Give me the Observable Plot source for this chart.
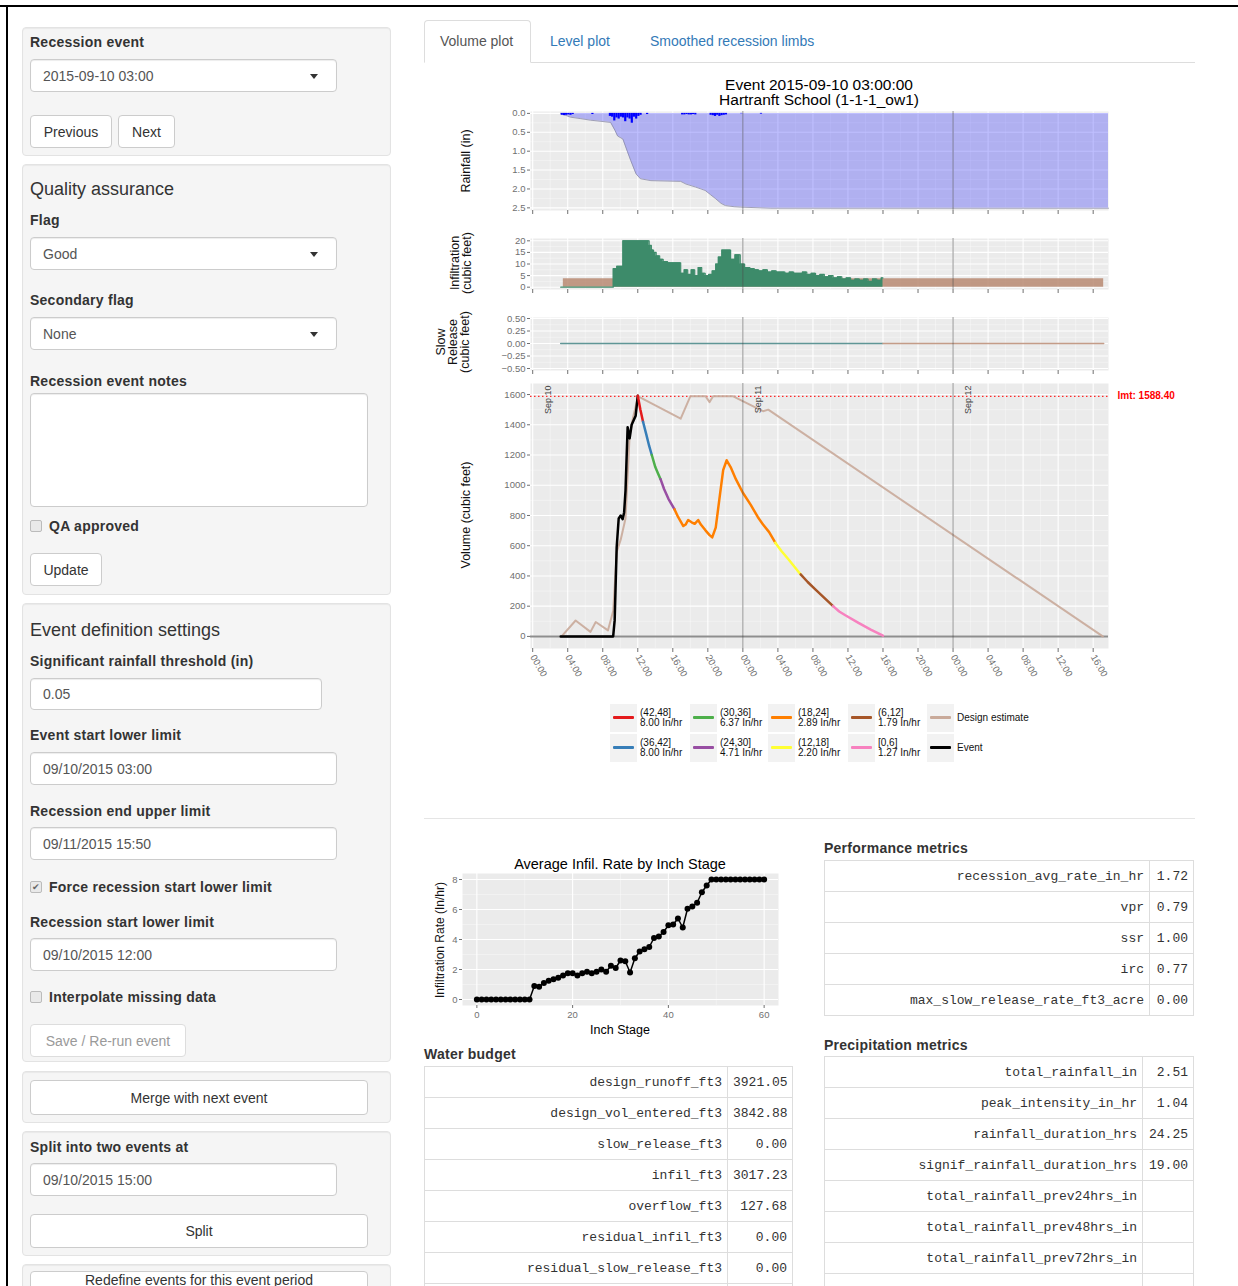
<!DOCTYPE html>
<html><head><meta charset="utf-8">
<script src="https://cdn.jsdelivr.net/npm/d3@7"></script>
<script src="https://cdn.jsdelivr.net/npm/@observablehq/plot@0.6"></script>
<style>
*{box-sizing:border-box}
html,body{margin:0;padding:0}
body{position:relative;width:1238px;height:1286px;overflow:hidden;background:#fff;font-family:"Liberation Sans",Arial,Helvetica,sans-serif;color:#333}
.a{position:absolute;white-space:nowrap}
.well{position:absolute;left:22px;width:369px;background:#f5f5f5;border:1px solid #e3e3e3;border-radius:4px;box-shadow:inset 0 1px 1px rgba(0,0,0,.05)}
.lbl{position:absolute;left:30px;font-weight:bold;font-size:14px;line-height:16px;margin-top:-8px;letter-spacing:.25px;white-space:nowrap;color:#333}
.h4{position:absolute;left:30px;font-size:18px;line-height:20px;margin-top:-10px;white-space:nowrap;color:#333}
.inp{position:absolute;left:30px;height:33px;background:#fff;border:1px solid #ccc;border-radius:4px;font-size:14px;color:#555;padding-left:12px;display:flex;align-items:center;box-shadow:inset 0 1px 1px rgba(0,0,0,.075)}
.caret{position:absolute;right:18px;top:14px;width:0;height:0;border-left:4px solid transparent;border-right:4px solid transparent;border-top:5px solid #333}
.btn{position:absolute;left:30px;height:33px;background:#fff;border:1px solid #ccc;border-radius:4px;font-size:14px;color:#333;display:flex;align-items:center;justify-content:center;white-space:nowrap}
.cb{position:absolute;left:30px;width:12px;height:12px;border:1px solid #bbb;border-radius:2px;background:#e9e9e9;font-size:9px;line-height:10px;text-align:center;color:#666}
.tbl{position:absolute;border-collapse:collapse;table-layout:fixed;font-family:"Liberation Mono","DejaVu Sans Mono",monospace;font-size:13px;color:#333}
.tbl td{border:1px solid #ddd;height:31px;padding:0 5px 0 5px;text-align:right;white-space:nowrap;overflow:hidden}
.sec{position:absolute;font-weight:bold;font-size:14px;line-height:16px;margin-top:-8px;letter-spacing:.25px;white-space:nowrap;color:#333}
.yt{position:absolute;transform:translate(-50%,-50%) rotate(-90deg);white-space:pre;text-align:center;font-size:12.5px;line-height:12px;color:#111}
.ttl{position:absolute;text-align:center;font-size:15px;line-height:15px;color:#000;white-space:pre}
.lg{position:absolute;font-size:10px;line-height:10px;color:#111;white-space:pre}
.key{position:absolute;width:27px;height:28px;background:#f2f2f2}
.key i{position:absolute;left:3px;right:3px;top:12px;height:3px;border-radius:1px}
</style></head><body>

<!-- outer frame -->
<div class="a" style="left:0;top:5px;width:1238px;height:2px;background:#000"></div>
<div class="a" style="left:6px;top:5px;width:2px;height:1281px;background:#000"></div>

<!-- sidebar wells -->
<div class="well" style="top:27px;height:129px"></div>
<div class="well" style="top:164px;height:431px"></div>
<div class="well" style="top:603px;height:459px"></div>
<div class="well" style="top:1071px;height:52px"></div>
<div class="well" style="top:1131px;height:125px"></div>
<div class="well" style="top:1264px;height:60px"></div>

<div class="lbl" style="top:42px">Recession event</div>
<div class="inp" style="top:59px;width:307px">2015-09-10 03:00<span class="caret"></span></div>
<div class="btn" style="top:115px;width:82px">Previous</div>
<div class="btn" style="top:115px;left:118px;width:57px">Next</div>

<div class="h4" style="top:189px">Quality assurance</div>
<div class="lbl" style="top:220px">Flag</div>
<div class="inp" style="top:237px;width:307px">Good<span class="caret"></span></div>
<div class="lbl" style="top:300px">Secondary flag</div>
<div class="inp" style="top:317px;width:307px">None<span class="caret"></span></div>
<div class="lbl" style="top:381px">Recession event notes</div>
<div class="inp" style="top:393px;width:338px;height:114px"></div>
<div class="cb" style="top:520px"></div>
<div class="lbl" style="top:526px;left:49px">QA approved</div>
<div class="btn" style="top:553px;width:72px">Update</div>

<div class="h4" style="top:630px">Event definition settings</div>
<div class="lbl" style="top:661px">Significant rainfall threshold (in)</div>
<div class="inp" style="top:678px;width:292px;height:32px">0.05</div>
<div class="lbl" style="top:735px">Event start lower limit</div>
<div class="inp" style="top:752px;width:307px">09/10/2015 03:00</div>
<div class="lbl" style="top:811px">Recession end upper limit</div>
<div class="inp" style="top:827px;width:307px">09/11/2015 15:50</div>
<div class="cb" style="top:881px">✔</div>
<div class="lbl" style="top:887px;left:49px">Force recession start lower limit</div>
<div class="lbl" style="top:922px">Recession start lower limit</div>
<div class="inp" style="top:938px;width:307px">09/10/2015 12:00</div>
<div class="cb" style="top:991px"></div>
<div class="lbl" style="top:997px;left:49px">Interpolate missing data</div>
<div class="btn" style="top:1024px;width:156px;color:#9a9a9a;border-color:#ddd">Save / Re-run event</div>

<div class="btn" style="top:1080px;width:338px;height:35px">Merge with next event</div>
<div class="lbl" style="top:1147px">Split into two events at</div>
<div class="inp" style="top:1163px;width:307px">09/10/2015 15:00</div>
<div class="btn" style="top:1214px;width:338px;height:34px">Split</div>
<div class="btn" style="top:1271px;width:338px;height:34px;align-items:flex-start;padding-top:1px;line-height:14px">Redefine events for this event period</div>

<!-- tabs -->
<div class="a" style="left:424px;top:62px;width:771px;height:1px;background:#ddd"></div>
<div class="a" style="left:424px;top:20px;width:107px;height:43px;border:1px solid #ddd;border-bottom-color:#fff;border-radius:4px 4px 0 0;background:#fff"></div>
<div class="a" style="left:440px;top:33px;font-size:14px;line-height:16px;color:#555">Volume plot</div>
<div class="a" style="left:550px;top:33px;font-size:14px;line-height:16px;color:#337ab7">Level plot</div>
<div class="a" style="left:650px;top:33px;font-size:14px;line-height:16px;color:#337ab7">Smoothed recession limbs</div>

<!-- main figure text -->
<div class="ttl" style="left:619px;top:77px;width:400px;font-size:15.5px">Event 2015-09-10 03:00:00
Hartranft School (1-1-1_ow1)</div>
<div class="yt" style="left:466px;top:161px">Rainfall (in)</div>
<div class="yt" style="left:461px;top:263px">Infiltration
(cubic feet)</div>
<div class="yt" style="left:453px;top:342px">Slow
Release
(cubic feet)</div>
<div class="yt" style="left:466px;top:515px">Volume (cubic feet)</div>

<div id="legend"></div>

<div class="a" style="left:424px;top:818px;width:771px;height:1px;background:#e5e5e5"></div>

<!-- second chart text -->
<div class="ttl" style="left:420px;top:857px;width:400px;font-size:14.5px">Average Infil. Rate by Inch Stage</div>
<div class="yt" style="left:440px;top:940px;font-size:12px">Infiltration Rate (In/hr)</div>
<div class="ttl" style="left:470px;top:1023px;width:300px;font-size:12.5px">Inch Stage</div>

<div class="sec" style="left:424px;top:1054px">Water budget</div>
<div class="sec" style="left:824px;top:848px">Performance metrics</div>
<div class="sec" style="left:824px;top:1045px">Precipitation metrics</div>
<div id="tables"></div>

<div id="plots"></div>

<script>
// ---------------- data ----------------
// times are hours after 2015-09-10 00:00
const rainCumHours = [3.2, 4.3, 5.5, 6.6, 7.8, 8.9, 9.4, 9.7, 10.3, 10.8, 11.2, 11.8, 12.3, 13.5, 16.9, 17.5, 18.6, 19.7, 20.3, 20.9, 21.5, 22.0, 23.0, 23.7, 27.2, 65.75];
const rainCumIn    = [0, 0.10, 0.14, 0.18, 0.21, 0.24, 0.45, 0.60, 0.68, 1.00, 1.25, 1.60, 1.73, 1.78, 1.80, 1.87, 1.95, 2.04, 2.15, 2.26, 2.38, 2.44, 2.47, 2.48, 2.51, 2.51];

const rainBarHours = [3.25, 3.5, 3.75, 4.0, 4.25, 4.5, 6.75, 8.75, 9.0, 9.25, 9.5, 9.75, 10.0, 10.25, 10.5, 10.75, 11.0, 11.25, 11.5, 11.75, 12.0, 12.25, 13.0, 17.0, 17.25, 17.5, 17.75, 18.0, 18.25, 18.5, 20.25, 20.5, 20.75, 21.0, 21.25, 21.5, 21.75, 22.0, 23.75, 26.0];
const rainBarIn    = [0.05, 0.06, 0.05, 0.04, 0.05, 0.03, 0.03, 0.08, 0.10, 0.20, 0.12, 0.15, 0.10, 0.12, 0.22, 0.12, 0.15, 0.26, 0.10, 0.15, 0.08, 0.05, 0.03, 0.04, 0.04, 0.03, 0.04, 0.04, 0.03, 0.04, 0.05, 0.06, 0.08, 0.05, 0.08, 0.06, 0.05, 0.04, 0.01, 0.02];

const infilHours = [3.2, 9.2, 9.6, 10.3, 13.3, 13.55, 13.8, 14.1, 14.5, 14.9, 15.4, 16.9, 17.3, 17.7, 18.1, 18.5, 18.9, 19.3, 19.7, 20.1, 20.5, 20.9, 21.2, 21.6, 22.6, 23.1, 23.7, 24.2, 24.8, 25.3, 25.8, 26.3, 26.8, 27.3, 27.8, 28.3, 28.8, 29.3, 29.8, 30.3, 30.8, 31.3, 31.8, 32.3, 32.8, 33.3, 33.8, 34.3, 34.8, 35.3, 35.8, 36.3, 36.8, 37.3, 37.8, 38.3, 38.8, 39.3, 39.8, 40.0];
const infilFt3   = [0, 8, 9, 20, 18, 16, 15, 13.5, 12, 11, 10.5, 6, 7.5, 5.5, 7.5, 5, 8.5, 6, 5, 5.5, 7, 10, 13, 16, 12, 14, 10, 8.5, 8, 7.5, 7, 7.5, 6.5, 7, 6.5, 6.5, 6, 6.5, 6, 6, 6.5, 5.5, 6, 5, 5.5, 4.5, 5, 4, 4.5, 3.5, 4, 3, 3.5, 3, 3.5, 2.5, 3.5, 3, 4, 4];
const designInfilHours = [3.5, 65.2];
const designInfilFt3   = [3.6, 3.6];

const slowObsHours = [3.2, 40.0];
const slowObsFt3   = [0, 0];
const slowDesignHours = [40.0, 65.2];
const slowDesignFt3   = [0, 0];

const eventHours = [3.2, 9.19, 9.36, 9.59, 9.82, 10.05, 10.27, 10.44, 10.6, 10.84, 11.07, 11.3, 11.53, 11.76, 12.0];
const eventVol   = [0, 0, 106, 590, 780, 800, 775, 820, 965, 1384, 1310, 1400, 1430, 1460, 1592];

const designHours = [3.3, 4.9, 6.6, 7.2, 8.6, 9.2, 9.6, 10.05, 10.6, 11.07, 11.47, 12.04, 16.9, 18.0, 19.75, 20.2, 20.6, 22.9, 24.9, 26.3, 26.9, 65.1];
const designVol   = [0, 105, 30, 95, 40, 170, 560, 640, 780, 1330, 1450, 1588, 1440, 1588, 1588, 1550, 1588, 1588, 1530, 1490, 1500, 0];

const recHours = [12.0, 12.3, 12.6, 13.0, 13.3, 13.6, 14.0, 14.3, 14.6, 15.0, 15.5, 16.2, 16.6, 17.2, 17.46, 17.75, 18.15, 18.5, 18.9, 19.2, 19.75, 20.2, 20.5, 20.9, 21.3, 21.75, 22.15, 22.6, 23.2, 24.0, 24.9, 25.7, 26.3, 27.0, 27.7, 28.4, 29.2, 30.6, 31.4, 32.3, 34.3, 35.0, 35.7, 37.2, 38.6, 40.0];
const recVol   = [1592, 1500, 1420, 1330, 1260, 1200, 1120, 1080, 1040, 975, 910, 840, 790, 730, 740, 770, 755, 745, 770, 740, 700, 670, 655, 720, 900, 1100, 1165, 1120, 1040, 950, 870, 790, 740, 690, 620, 565, 510, 410, 360, 310, 200, 165, 140, 90, 45, 5];
const recStage = ["(42,48]","(42,48]","(42,48]","(36,42]","(36,42]","(36,42]","(30,36]","(30,36]","(30,36]","(24,30]","(24,30]","(24,30]",
  "(18,24]","(18,24]","(18,24]","(18,24]","(18,24]","(18,24]","(18,24]","(18,24]","(18,24]","(18,24]","(18,24]","(18,24]","(18,24]","(18,24]","(18,24]","(18,24]","(18,24]","(18,24]","(18,24]","(18,24]","(18,24]","(18,24]","(18,24]",
  "(12,18]","(12,18]","(12,18]","(6,12]","(6,12]","(6,12]","[0,6]","[0,6]","[0,6]","[0,6]","[0,6]"];

const limitVol = 1588.40;
const dayLabels = ["Sep 10", "Sep 11", "Sep 12"];

const stages     = ["(42,48]","(36,42]","(30,36]","(24,30]","(18,24]","(12,18]","(6,12]","[0,6]"];
const stageRates = ["8.00","8.00","6.37","4.71","2.89","2.20","1.79","1.27"];
const stageColors = ["#e41a1c","#377eb8","#4daf4a","#984ea3","#ff7f00","#ffff33","#a65628","#f781bf"];
const designColor = "#c9aa9a";
const eventColor = "#000000";

const inchStage = [0,1,2,3,4,5,6,7,8,9,10,11,12,13,14,15,16,17,18,19,20,21,22,23,24,25,26,27,28,29,30,31,32,33,34,35,36,37,38,39,40,41,42,43,44,45,46,47,48,49,50,51,52,53,54,55,56,57,58,59,60];
const infilRate = [0,0,0,0,0,0,0,0,0,0,0,0,0.9,0.85,1.1,1.25,1.35,1.45,1.6,1.75,1.75,1.6,1.75,1.85,1.75,1.85,2.0,1.85,2.25,2.1,2.6,2.55,1.8,2.75,3.2,3.35,3.5,4.1,4.2,4.5,4.95,5.0,5.4,4.8,6.05,6.2,6.45,7.15,7.6,8,8,8,8,8,8,8,8,8,8,8,8];

const waterBudgetNames = ["design_runoff_ft3","design_vol_entered_ft3","slow_release_ft3","infil_ft3","overflow_ft3","residual_infil_ft3","residual_slow_release_ft3",""];
const waterBudgetVals  = ["3921.05","3842.88","0.00","3017.23","127.68","0.00","0.00",""];
const perfNames = ["recession_avg_rate_in_hr","vpr","ssr","irc","max_slow_release_rate_ft3_acre"];
const perfVals  = ["1.72","0.79","1.00","0.77","0.00"];
const precipNames = ["total_rainfall_in","peak_intensity_in_hr","rainfall_duration_hrs","signif_rainfall_duration_hrs","total_rainfall_prev24hrs_in","total_rainfall_prev48hrs_in","total_rainfall_prev72hrs_in",""];
const precipVals  = ["2.51","1.04","24.25","19.00","","","",""];

// ---------------- helpers ----------------
const T0 = Date.UTC(2015, 8, 10);
const H = h => new Date(T0 + h * 3600e3);
const rows = (hs, vs) => hs.map((h, i) => ({t: H(h), v: vs[i]}));
const xDomain = [H(-0.25), H(65.75)];
const majorX = d3.utcHour.every(4).range(H(0), H(65));
const minorX = majorX.map(d => new Date(+d + 2 * 3600e3)).filter(d => d < xDomain[1]);
const dayLines = [H(0), H(24), H(48)];
const FONT = '"Liberation Sans", Arial, sans-serif';
const plotsDiv = document.getElementById("plots");

function panel(o) {
  const svg = Plot.plot({
    width: 780, height: o.height,
    marginLeft: 110, marginRight: 92, marginTop: o.mt, marginBottom: o.mb,
    x: {type: "utc", domain: xDomain},
    y: {domain: o.yDomain, reverse: !!o.reverse},
    color: {type: "identity"},
    style: {position: "absolute", left: "420px", top: o.top + "px", background: "transparent",
            fontFamily: FONT, fontSize: "9.5px", color: "#707070", overflow: "visible"},
    marks: [
      Plot.frame({fill: "#ebebeb", stroke: "none"}),
      Plot.gridX(minorX, {stroke: "#fff", strokeOpacity: 0.6, strokeWidth: 0.6}),
      Plot.gridY(o.yMinor, {stroke: "#fff", strokeOpacity: 0.6, strokeWidth: 0.6}),
      Plot.gridX(majorX, {stroke: "#fff", strokeOpacity: 1, strokeWidth: 1.1}),
      Plot.gridY(o.yTicks, {stroke: "#fff", strokeOpacity: 1, strokeWidth: 1.1}),
      ...o.marks,
      Plot.ruleX(dayLines.slice(1), {stroke: "#4d4d4d", strokeWidth: 0.6}),
      ...(o.after || []),
      Plot.axisY({ticks: o.yTicks, tickSize: 3, tickPadding: 2, tickFormat: o.yFormat, label: null}),
      o.xLabels
        ? Plot.axisX({ticks: majorX, tickSize: 4, tickPadding: 3, tickRotate: 60, tickFormat: d3.utcFormat("%H:%M"), label: null})
        : Plot.axisX({ticks: majorX, tickSize: 4, tickFormat: () => "", label: null})
    ]
  });
  plotsDiv.append(svg);
}

// rainfall
panel({
  top: 100, height: 120, mt: 11, mb: 10, yDomain: [-0.05, 2.57], reverse: true,
  yTicks: [0, 0.5, 1, 1.5, 2, 2.5], yMinor: [0.25, 0.75, 1.25, 1.75, 2.25], yFormat: d3.format(".1f"),
  marks: [
    Plot.areaY(rows(rainCumHours, rainCumIn), {x: "t", y: "v", fill: "blue", fillOpacity: 0.25}),
    Plot.lineY(rows(rainCumHours, rainCumIn), {x: "t", y: "v", stroke: "#8c8ca8", strokeWidth: 0.8}),
    Plot.rectY(rainBarHours.map((h, i) => ({t1: H(h), t2: H(h + 0.25), v: rainBarIn[i]})), {x1: "t1", x2: "t2", y: "v", fill: "#0000ff"})
  ]
});

// infiltration
panel({
  top: 228, height: 71, mt: 10, mb: 10, yDomain: [-1, 21],
  yTicks: [0, 5, 10, 15, 20], yMinor: [2.5, 7.5, 12.5, 17.5], yFormat: d3.format("d"),
  marks: [
    Plot.areaY(rows(designInfilHours, designInfilFt3), {x: "t", y: "v", fill: "#b98a72", fillOpacity: 0.85, curve: "step-after"}),
    Plot.areaY(rows(infilHours, infilFt3), {x: "t", y: "v", fill: "#3d8b6a", curve: "step-after"}),
    Plot.lineY(rows(infilHours, infilFt3), {x: "t", y: "v", stroke: "#3d8b6a", strokeWidth: 1.2, curve: "step-after"})
  ]
});

// slow release
panel({
  top: 307, height: 73, mt: 10, mb: 10, yDomain: [-0.54, 0.52],
  yTicks: [-0.5, -0.25, 0, 0.25, 0.5], yMinor: [-0.375, -0.125, 0.125, 0.375], yFormat: d3.format(".2f"),
  marks: [
    Plot.lineY(rows(slowObsHours, slowObsFt3), {x: "t", y: "v", stroke: "#5f9696", strokeWidth: 1.6}),
    Plot.lineY(rows(slowDesignHours, slowDesignFt3), {x: "t", y: "v", stroke: "#c49c88", strokeWidth: 1.6})
  ]
});

// volume
const recRows = [];
recHours.forEach((h, i) => {
  recRows.push({t: H(h), v: recVol[i], s: recStage[i]});
  if (i + 1 < recHours.length && recStage[i + 1] !== recStage[i]) recRows.push({t: H(h), v: recVol[i], s: recStage[i + 1]});
});
const colorOf = s => stageColors[stages.indexOf(s)];
panel({
  top: 373, height: 320, mt: 10, mb: 45, yDomain: [-80, 1673], xLabels: true,
  yTicks: [0, 200, 400, 600, 800, 1000, 1200, 1400, 1600], yMinor: [100, 300, 500, 700, 900, 1100, 1300, 1500], yFormat: d3.format("d"),
  marks: [
    Plot.ruleY([0], {stroke: "#8e8e8e", strokeWidth: 2}),
    Plot.ruleY([limitVol], {stroke: "#ff2a2a", strokeWidth: 1.3, strokeDasharray: "1.5,2.5"}),
    Plot.line(rows(designHours, designVol), {x: "t", y: "v", stroke: designColor, strokeWidth: 2, strokeOpacity: 0.9}),
    Plot.line(rows(eventHours, eventVol), {x: "t", y: "v", stroke: eventColor, strokeWidth: 2.5}),
    Plot.line(recRows, {x: "t", y: "v", z: "s", stroke: d => colorOf(d.s), strokeWidth: 2.5})
  ],
  after: [
    Plot.text(dayLines, {x: d => d, frameAnchor: "top", text: (d, i) => dayLabels[i], rotate: -90, textAnchor: "end", dx: 12, dy: 2, fill: "#444", fontSize: 9}),
    Plot.text([limitVol], {x: () => xDomain[1], y: d => d, text: d => "lmt: " + d.toFixed(2), textAnchor: "start", dx: 9, fill: "#ff0000", fontSize: 10, fontWeight: "bold"})
  ]
});

// legend
const legend = document.getElementById("legend");
const legItems = stages.map((s, i) => ({text: s + "\n" + stageRates[i] + " In/hr", color: stageColors[i]}))
  .concat([{text: "Design estimate", color: designColor}, {text: "Event", color: eventColor}]);
const colX = [610, 690, 768, 848, 927];
const rowY = [704, 734];
legItems.forEach((it, i) => {
  const cx = colX[Math.floor(i / 2)], cy = rowY[i % 2];
  const k = document.createElement("div");
  k.className = "key"; k.style.left = cx + "px"; k.style.top = cy + "px";
  const line = document.createElement("i"); line.style.background = it.color; k.append(line);
  legend.append(k);
  const t = document.createElement("div");
  t.className = "lg"; t.textContent = it.text;
  t.style.left = (cx + 30) + "px";
  const n = it.text.split("\n").length;
  t.style.top = (cy + 14 - n * 5) + "px";
  legend.append(t);
});

// average infiltration rate chart
const rateRows = inchStage.map((s, i) => ({s, r: infilRate[i]}));
plotsDiv.append(Plot.plot({
  width: 370, height: 195, marginLeft: 42, marginRight: 12, marginTop: 25, marginBottom: 38,
  x: {domain: [-3, 63]}, y: {domain: [-0.4, 8.4]},
  style: {position: "absolute", left: "420px", top: "848px", background: "transparent",
          fontFamily: FONT, fontSize: "9.5px", color: "#707070", overflow: "visible"},
  marks: [
    Plot.frame({fill: "#ebebeb", stroke: "none"}),
    Plot.gridX([10, 30, 50], {stroke: "#fff", strokeOpacity: 0.6, strokeWidth: 0.6}),
    Plot.gridY([1, 3, 5, 7], {stroke: "#fff", strokeOpacity: 0.6, strokeWidth: 0.6}),
    Plot.gridX([0, 20, 40, 60], {stroke: "#fff", strokeOpacity: 1, strokeWidth: 1.1}),
    Plot.gridY([0, 2, 4, 6, 8], {stroke: "#fff", strokeOpacity: 1, strokeWidth: 1.1}),
    Plot.line(rateRows, {x: "s", y: "r", stroke: "#000", strokeWidth: 1.5}),
    Plot.dot(rateRows, {x: "s", y: "r", fill: "#000", r: 3}),
    Plot.axisX({ticks: [0, 20, 40, 60], tickSize: 3, tickPadding: 3, label: null}),
    Plot.axisY({ticks: [0, 2, 4, 6, 8], tickSize: 3, tickPadding: 2, label: null})
  ]
}));

// tables
function table(left, top, widths, names, vals) {
  const tb = document.createElement("table");
  tb.className = "tbl";
  tb.style.left = left + "px"; tb.style.top = top + "px";
  tb.style.width = (widths[0] + widths[1]) + "px";
  const cg = document.createElement("colgroup");
  widths.forEach(w => { const c = document.createElement("col"); c.style.width = w + "px"; cg.append(c); });
  tb.append(cg);
  names.forEach((n, i) => {
    const tr = document.createElement("tr");
    const a = document.createElement("td"); a.textContent = n;
    const b = document.createElement("td"); b.textContent = vals[i];
    tr.append(a, b); tb.append(tr);
  });
  document.getElementById("tables").append(tb);
}
table(424, 1066, [303, 65], waterBudgetNames, waterBudgetVals);
table(824, 860, [325, 44], perfNames, perfVals);
table(824, 1056, [318, 51], precipNames, precipVals);
</script>
</body></html>
